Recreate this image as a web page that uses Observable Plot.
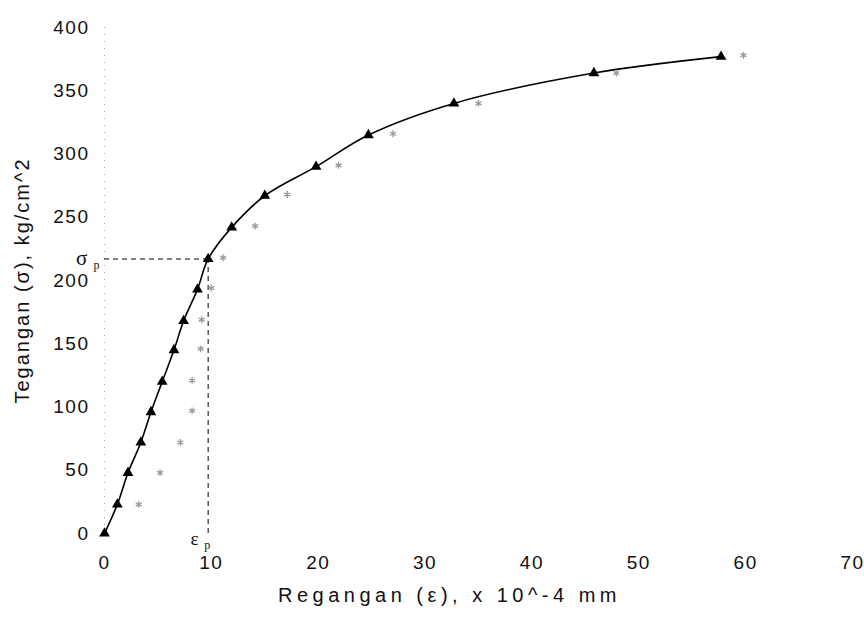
<!DOCTYPE html>
<html><head><meta charset="utf-8">
<script src="https://cdn.jsdelivr.net/npm/d3@7"></script>
<script src="https://cdn.jsdelivr.net/npm/@observablehq/plot@0.6"></script>
<style>body{margin:0;background:#fff} svg{display:block}</style>
</head><body><div id="chart"></div>
<script>
// Series A (triangles, connected line)
const strainA = [0, 1.2, 2.2, 3.4, 4.35, 5.4, 6.5, 7.4, 8.7, 9.7, 11.9, 15.0, 19.8, 24.7, 32.7, 45.8, 57.7];
const stressA = [0, 23, 48, 72, 96, 120, 145, 168, 193, 217, 242, 267, 290, 315, 340, 364, 377];
// Series B (grey asterisks)
const strainB = [3.2, 5.2, 7.1, 8.2, 8.2, 9.0, 9.1, 10.0, 11.1, 14.1, 17.1, 21.9, 27.0, 35.0, 47.9, 59.8];
const stressB = [23, 48, 72, 97, 121, 146, 169, 194, 218, 243, 268, 291, 316, 340, 364, 378];
const xTicks = [0, 10, 20, 30, 40, 50, 60, 70];
const yTicks = [0, 50, 100, 150, 200, 250, 300, 350, 400];
const xTitle = "Regangan (ε), x 10^-4 mm";
const yTitle = "Tegangan (σ), kg/cm^2";
const propIndex = 9; // proportional limit point

const A = strainA.map((x, i) => ({x, y: stressA[i]}));
const B = strainB.map((x, i) => ({x, y: stressB[i]}));
const P = {x: strainA[propIndex], y: stressA[propIndex]};

const chart = Plot.plot({
  width: 864, height: 622,
  marginLeft: 104, marginRight: 12, marginTop: 27, marginBottom: 89,
  style: {fontFamily: "'Liberation Sans', Arial, sans-serif", fontSize: "19px", color: "#111", background: "#fff", letterSpacing: "1.5px", overflow: "visible"},
  x: {domain: [0, 70]},
  y: {domain: [0, 400]},
  marks: [
    Plot.ruleX([0], {stroke: "#aaa", strokeDasharray: "1,6"}),
    Plot.axisX({ticks: xTicks, tickSize: 0, tickPadding: 22, label: null}),
    Plot.axisY({ticks: yTicks, tickSize: 0, tickPadding: 15, label: yTitle, labelAnchor: "center", labelOffset: 90, labelArrow: "none"}),
    Plot.ruleY([P], {y: "y", x1: 0, x2: "x", stroke: "#000", strokeDasharray: "5,4", strokeWidth: 1}),
    Plot.ruleX([P], {x: "x", y1: 0, y2: "y", stroke: "#000", strokeDasharray: "5,4", strokeWidth: 1}),
    Plot.line(A, {x: "x", y: "y", curve: "catmull-rom", stroke: "#000", strokeWidth: 1.6}),
    Plot.dot(B, {x: "x", y: "y", symbol: "asterisk", stroke: "#999", r: 3.2, strokeWidth: 1.3}),
    Plot.dot(A, {x: "x", y: "y", symbol: "triangle", fill: "#000", r: 4}),
    Plot.text([P], {y: "y", frameAnchor: "left", text: () => "σ", dx: -22, dy: -1, fontFamily: "'Liberation Serif', serif", fontSize: 21, textAnchor: "middle"}),
    Plot.text([P], {y: "y", frameAnchor: "left", text: () => "p", dx: -8, dy: 6, fontFamily: "'Liberation Serif', serif", fontSize: 12, textAnchor: "middle"}),
    Plot.text([P], {x: "x", frameAnchor: "bottom", text: () => "ε", dx: -13, dy: 11, fontFamily: "'Liberation Serif', serif", fontSize: 19, textAnchor: "middle"}),
    Plot.text([P], {x: "x", frameAnchor: "bottom", text: () => "p", dx: -1, dy: 15, fontFamily: "'Liberation Serif', serif", fontSize: 12, textAnchor: "middle", letterSpacing: 0}),
    Plot.text([xTitle], {frameAnchor: "bottom", text: d => d, dx: -29, dy: 68, fontSize: 20})
  ]
});
document.getElementById("chart").appendChild(chart);
d3.select(chart).selectAll("text").each(function() {
  const t = this.textContent;
  if (t === xTitle) this.setAttribute("letter-spacing", "4.5px");
  if (t === "p") this.setAttribute("letter-spacing", "0");
  if (t.startsWith("Tegangan")) { this.textContent = yTitle; this.setAttribute("letter-spacing", "2px"); this.setAttribute("font-size", "20"); }
});
</script>
</body></html>
